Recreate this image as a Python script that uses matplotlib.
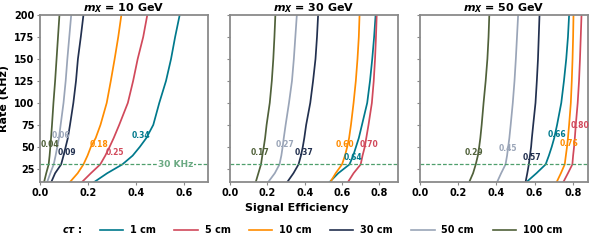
import matplotlib.pyplot as plt
import matplotlib.ticker as ticker
from matplotlib.lines import Line2D

plt.rcParams['font.family'] = 'DejaVu Sans'
plt.rcParams['font.weight'] = 'bold'
plt.rcParams['mathtext.fontset'] = 'custom'
plt.rcParams['mathtext.it'] = 'DejaVu Sans:italic:bold'
plt.rcParams['mathtext.rm'] = 'DejaVu Sans:bold'
plt.rcParams['mathtext.bf'] = 'DejaVu Sans:bold'

### data
rates = [10, 20, 30, 40, 50, 60, 75, 100, 125, 150, 175, 200]
ctau_labels = ['1 cm', '5 cm', '10 cm', '30 cm', '50 cm', '100 cm']
masses = [10, 30, 50]

# signal efficiency vs rate, one row per c*tau
eff_m10 = [
    [0.226, 0.280, 0.343, 0.386, 0.416, 0.443, 0.472, 0.497, 0.525, 0.546, 0.563, 0.582],
    [0.175, 0.212, 0.251, 0.272, 0.290, 0.307, 0.330, 0.366, 0.388, 0.407, 0.430, 0.447],
    [0.125, 0.157, 0.181, 0.198, 0.212, 0.232, 0.252, 0.278, 0.295, 0.311, 0.326, 0.339],
    [0.047, 0.063, 0.088, 0.098, 0.107, 0.116, 0.125, 0.139, 0.150, 0.158, 0.170, 0.181],
    [0.030, 0.043, 0.057, 0.065, 0.072, 0.079, 0.086, 0.098, 0.107, 0.114, 0.122, 0.130],
    [0.017, 0.026, 0.036, 0.040, 0.043, 0.046, 0.050, 0.056, 0.063, 0.069, 0.075, 0.081],
]
eff_m30 = [
    [0.534, 0.580, 0.640, 0.660, 0.675, 0.690, 0.707, 0.735, 0.750, 0.762, 0.772, 0.780],
    [0.632, 0.662, 0.700, 0.710, 0.722, 0.730, 0.742, 0.760, 0.770, 0.777, 0.782, 0.786],
    [0.538, 0.566, 0.600, 0.616, 0.628, 0.638, 0.648, 0.662, 0.674, 0.683, 0.690, 0.694],
    [0.307, 0.340, 0.367, 0.380, 0.390, 0.398, 0.408, 0.430, 0.445, 0.458, 0.466, 0.472],
    [0.205, 0.240, 0.265, 0.275, 0.282, 0.288, 0.298, 0.316, 0.332, 0.342, 0.350, 0.358],
    [0.138, 0.152, 0.166, 0.173, 0.181, 0.188, 0.196, 0.213, 0.224, 0.232, 0.238, 0.243],
]
eff_m50 = [
    [0.558, 0.610, 0.658, 0.675, 0.690, 0.703, 0.718, 0.740, 0.754, 0.766, 0.775, 0.781],
    [0.751, 0.775, 0.798, 0.802, 0.807, 0.811, 0.816, 0.826, 0.833, 0.838, 0.842, 0.846],
    [0.716, 0.738, 0.758, 0.764, 0.770, 0.775, 0.781, 0.790, 0.795, 0.799, 0.802, 0.804],
    [0.553, 0.562, 0.570, 0.576, 0.582, 0.586, 0.593, 0.605, 0.612, 0.618, 0.622, 0.626],
    [0.404, 0.425, 0.448, 0.456, 0.462, 0.468, 0.475, 0.486, 0.495, 0.502, 0.508, 0.514],
    [0.258, 0.278, 0.292, 0.303, 0.310, 0.316, 0.323, 0.333, 0.344, 0.353, 0.359, 0.363],
]

# efficiency at 30 KHz (annotations)
eff30_m10 = [0.34, 0.25, 0.18, 0.09, 0.06, 0.04]
eff30_m30 = [0.64, 0.70, 0.60, 0.37, 0.27, 0.17]
eff30_m50 = [0.66, 0.80, 0.76, 0.57, 0.45, 0.29]

rate_cut = 30

### style
colors = ['#00798c', '#d1495b', '#ff8c00', '#22304f', '#9aa5b8', '#50613a']
line_green = '#4f9f6c'
spine_gray = '#8a8a8a'
xmax = [0.7, 0.9, 0.88]
lefts = [40/591, 230/591, 420/591]

# annotation text positions (efficiency, rate)
lab_pos = [
    [(0.42, 63), (0.31, 43), (0.247, 53), (0.113, 43), (0.086, 63), (0.040, 53)],
    [(0.659, 38), (0.744, 53), (0.616, 53), (0.396, 43), (0.296, 53), (0.161, 43)],
    [(0.716, 64), (0.837, 74), (0.781, 54), (0.586, 38), (0.461, 48), (0.284, 44)],
]

all_eff = [eff_m10, eff_m30, eff_m50]
all_eff30 = [eff30_m10, eff30_m30, eff30_m50]

fig = plt.figure(figsize=(5.91, 2.44), dpi=100)

axes = []
for i, m in enumerate(masses):
    ax = fig.add_axes([lefts[i], 62/244, 168/591, 167/244])
    axes.append(ax)
    for j in range(len(ctau_labels)):
        ax.plot(all_eff[i][j], rates, color=colors[j], lw=1.25)
        tx, ty = lab_pos[i][j]
        ax.text(tx, ty, '%.2f' % all_eff30[i][j], color=colors[j], fontsize=5.5,
                fontweight='bold', ha='center', va='center')
    ax.axhline(rate_cut, color=line_green, ls='--', lw=0.9, dashes=(3, 1.5))
    ax.set_xlim(0, xmax[i])
    ax.set_ylim(10, 200)
    ax.set_yticks([25, 50, 75, 100, 125, 150, 175, 200])
    ax.xaxis.set_major_locator(ticker.MultipleLocator(0.2))
    ax.xaxis.set_major_formatter(ticker.FormatStrFormatter('%.1f'))
    ax.tick_params(labelsize=7, length=2.5, width=0.8, color=spine_gray, pad=1.5)
    if i > 0:
        ax.tick_params(labelleft=False)
    for s in ax.spines.values():
        s.set_color(spine_gray)
        s.set_linewidth(1.3)
    ax.set_title(r'$m_X$ = %d GeV' % m, fontsize=8, fontweight='bold', pad=2)

axes[0].set_ylabel('Rate (KHz)', fontsize=8, fontweight='bold', labelpad=4)
axes[0].text(0.564, rate_cut, '30 KHz', color='#6aa982', fontsize=6.5, fontweight='bold',
             ha='center', va='center',
             bbox=dict(facecolor='white', edgecolor='none', pad=0.6))

fig.text(297/591, 1 - 208/244, 'Signal Efficiency', fontsize=8, fontweight='bold',
         ha='center', va='center')

handles = [Line2D([], [], color=c, lw=1.2) for c in colors]
fig.text(62/591, 14/244, r'$c\tau$ :', fontsize=7, fontweight='bold', ha='left', va='center')
fig.legend(handles, ctau_labels, ncol=6, loc='center', bbox_to_anchor=(331/591, 14/244),
           frameon=False, fontsize=7, handlelength=2.4, handletextpad=0.7,
           columnspacing=1.9, borderaxespad=0, borderpad=0)

plt.savefig('out.png', dpi=100)
